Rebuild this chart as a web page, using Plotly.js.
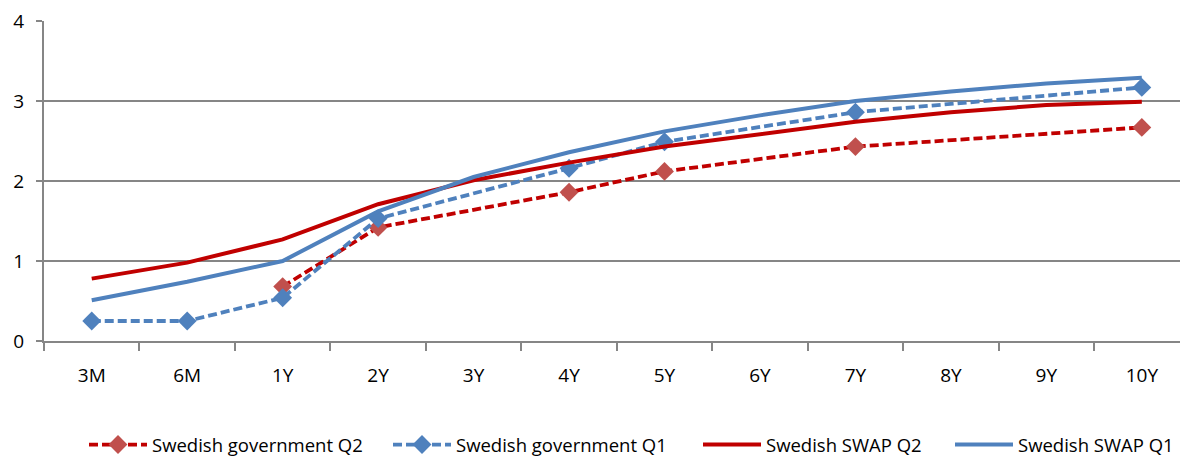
<!DOCTYPE html>
<html><head><meta charset="utf-8">
<script src="https://cdn.plot.ly/plotly-3.0.1.min.js"></script>
<style>html,body{margin:0;padding:0;background:#fff}#chart{width:1180px;height:457px}</style>
</head><body><div id="chart"></div>
<script>
const categories = ["3M","6M","1Y","2Y","3Y","4Y","5Y","6Y","7Y","8Y","9Y","10Y"];
const govQ2 = [null,null,0.68,1.42,null,1.86,2.12,null,2.43,null,null,2.67];
const govQ1 = [0.25,0.25,0.54,1.53,null,2.16,2.49,null,2.86,null,null,3.17];
const swapQ2 = [0.78,0.98,1.27,1.71,2.01,2.23,2.43,2.59,2.74,2.86,2.95,2.99];
const swapQ1 = [0.51,0.74,1.00,1.62,2.05,2.36,2.62,2.82,3.00,3.12,3.22,3.29];
const yTicks = [0,1,2,3,4];

const fnt = "'Open Sans', Lato, sans-serif";
const traces = [
  {name:"Swedish government Q2", legend:"legend", x:categories, y:govQ2, type:"scatter", mode:"lines+markers", connectgaps:true,
   line:{color:"#C00000", width:3.8, dash:"9px,4px"}, marker:{symbol:"diamond", size:14.5, color:"#C0504D"}},
  {name:"Swedish government Q1", legend:"legend2", x:categories, y:govQ1, type:"scatter", mode:"lines+markers", connectgaps:true,
   line:{color:"#4F81BD", width:3.8, dash:"9px,4px"}, marker:{symbol:"diamond", size:14.5, color:"#4F81BD"}},
  {name:"Swedish SWAP Q2", legend:"legend3", x:categories, y:swapQ2, type:"scatter", mode:"lines",
   line:{color:"#C00000", width:4}},
  {name:"Swedish SWAP Q1", legend:"legend4", x:categories, y:swapQ1, type:"scatter", mode:"lines",
   line:{color:"#4F81BD", width:4}}
];
function leg(px){
  return {orientation:"h", xref:"container", yref:"container", x:px/1180, xanchor:"left", y:1-445/457, yanchor:"middle",
    font:{size:18.5, family:fnt}, itemwidth:58, bgcolor:"rgba(0,0,0,0)", borderwidth:0};
}
const layout = {
  width:1180, height:457,
  margin:{l:44, r:0, t:21, b:116},
  paper_bgcolor:"#fff", plot_bgcolor:"#fff",
  font:{family:fnt, size:19, color:"#000"},
  showlegend:true,
  legend:leg(84), legend2:leg(388), legend3:leg(698), legend4:leg(950),
  xaxis:{type:"category", range:[-0.5,11.4], showline:true, linecolor:"#868686", linewidth:2,
    ticks:"outside", tickson:"boundaries", ticklen:8, tickwidth:2, tickcolor:"#868686",
    showgrid:false, ticklabelstandoff:16, tickfont:{size:19}, automargin:false},
  yaxis:{range:[0,4], tickvals:yTicks, showline:true, linecolor:"#868686", linewidth:2,
    ticks:"outside", ticklen:6, tickwidth:2, tickcolor:"#868686", automargin:false,
    showgrid:true, gridcolor:"#868686", gridwidth:2, zeroline:false, tickfont:{size:19}, ticklabelstandoff:8}
};
Plotly.newPlot("chart", traces, layout, {displayModeBar:false, staticPlot:true});
</script></body></html>
